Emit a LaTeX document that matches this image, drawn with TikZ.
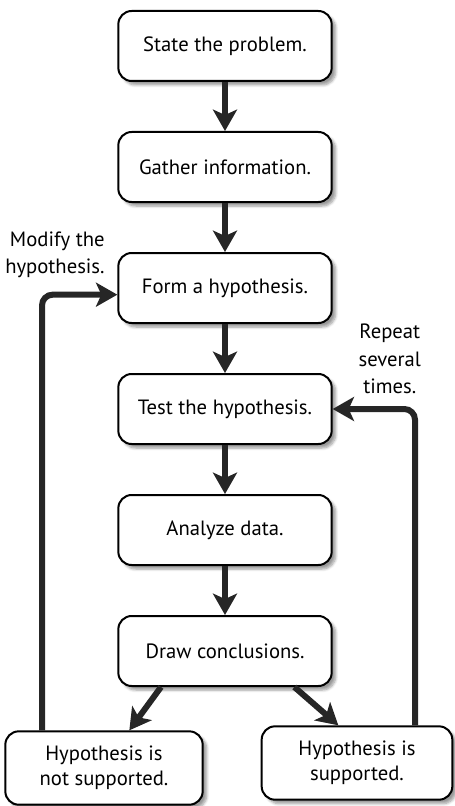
\documentclass[tikz,border=0pt]{standalone}
\usepackage{fontspec}
\setmainfont{PT Sans}
\usetikzlibrary{positioning,arrows.meta,shadows.blur}

\begin{document}
\begin{tikzpicture}[
  x=0.75pt, y=-0.75pt,
  font=\fontsize{15.5}{19}\selectfont,
  >={Stealth[length=16pt,width=18pt,inset=4pt]},
  box/.style={draw, line width=1.5pt, rounded corners=10pt, fill=white, align=center,
    minimum width=160pt, minimum height=52.5pt,
    blur shadow={shadow xshift=3pt, shadow yshift=-3pt, shadow blur steps=6, shadow opacity=40}},
  flow/.style={->, line width=4.5pt, draw=black!85},
  note/.style={font=\fontsize{15.5}{20.5}\selectfont},
]
\useasboundingbox (0,0) rectangle (454,806);

% main chain
\node[box] (state) at (225,46) {State the problem.};
\node[box, below=36.75pt of state] (gather) {Gather information.};
\node[box, below=36.75pt of gather] (form) {Form a hypothesis.};
\node[box, below=36.75pt of form] (test) {Test the hypothesis.};
\node[box, below=36.75pt of test] (analyze) {Analyze data.};
\node[box, below=36.75pt of analyze] (concl) {Draw conclusions.};
\draw[flow] (state) -- (gather);
\draw[flow] (gather) -- (form);
\draw[flow] (form) -- (test);
\draw[flow] (test) -- (analyze);
\draw[flow] (analyze) -- (concl);

% outcomes
\node[box, minimum width=148pt, minimum height=55pt] (nosup) at (104,768) {Hypothesis is\\not supported.};
\node[box, minimum width=143pt, minimum height=55pt] (sup) at (357,763) {Hypothesis is\\supported.};
\draw[flow] ([xshift=-48pt]concl.south) -- ([xshift=19pt]nosup.north);
\draw[flow] ([xshift=52pt]concl.south) -- ([xshift=-14pt]sup.north);

% loops back
\draw[flow, rounded corners=8pt] ([xshift=-46.5pt]nosup.north) |- ([yshift=-5pt]form.west);
\draw[flow, rounded corners=8pt] ([xshift=43.5pt]sup.north) |- (test.east);
\node[note, align=right, above left=4pt and 6pt of form.west] (modify) {Modify the\\hypothesis.};
\node[note, align=center, above right=8pt and 16pt of test.east] (repeat) {Repeat\\several\\times.};
\end{tikzpicture}
\end{document}
